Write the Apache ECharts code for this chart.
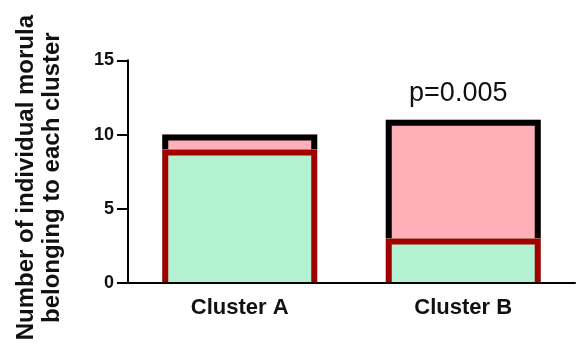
<!DOCTYPE html>
<html>
<head>
<meta charset="utf-8">
<script src="https://cdn.jsdelivr.net/npm/echarts@6/dist/echarts.min.js"></script>
<style>
  html, body { margin: 0; padding: 0; background: #ffffff; }
  #chart { width: 580px; height: 350px; }
</style>
</head>
<body>
<div id="chart"></div>
<script>
// Morula counts per cluster, split into two stacked groups
const categories = ['Cluster A', 'Cluster B'];
const lowerCounts = [9, 3];   // green segment
const upperCounts = [1, 8];   // pink segment stacked on top
const yTicks = [0, 5, 10, 15];
const yAxisTitle = 'Number of individual morula\nbelonging to each cluster';
const pValueText = 'p=0.005';
const pValueIndex = 1;

const font = 'Liberation Sans, Arial, sans-serif';
const BAR_WIDTH = 155;
const LINE_W = 6;

// [category index, segment start, segment end]
const lowerData = lowerCounts.map((v, i) => [i, 0, v]);
const upperData = upperCounts.map((v, i) => [i, lowerCounts[i], lowerCounts[i] + v]);

// Filled segment with an open-bottom outline drawn inside its edges
function segmentRenderer(fill, stroke, withNote) {
  return function (params, api) {
    const idx = api.value(0);
    const base = api.coord([idx, api.value(1)]);
    const top = api.coord([idx, api.value(2)]);
    const cx = top[0];
    const half = BAR_WIDTH / 2;
    const inset = LINE_W / 2;
    const children = [
      {
        type: 'rect',
        shape: { x: cx - half, y: top[1], width: BAR_WIDTH, height: base[1] - top[1] },
        style: { fill: fill }
      },
      {
        type: 'polyline',
        shape: {
          points: [
            [cx - half + inset, base[1]],
            [cx - half + inset, top[1] + inset],
            [cx + half - inset, top[1] + inset],
            [cx + half - inset, base[1]]
          ]
        },
        style: { fill: null, stroke: stroke, lineWidth: LINE_W, lineJoin: 'miter', lineCap: 'butt' }
      }
    ];
    if (withNote && params.dataIndex === pValueIndex) {
      children.push({
        type: 'text',
        style: {
          x: cx - 5,
          y: top[1] - 13,
          text: pValueText,
          fill: '#111',
          font: 'normal 27px ' + font,
          textAlign: 'center',
          textVerticalAlign: 'bottom'
        }
      });
    }
    return { type: 'group', children: children };
  };
}

const chart = echarts.init(document.getElementById('chart'), null, { renderer: 'canvas' });
chart.setOption({
  animation: false,
  backgroundColor: '#ffffff',
  grid: { left: 128, right: 5, top: 58, bottom: 67, containLabel: false },
  xAxis: {
    type: 'category',
    data: categories,
    boundaryGap: true,
    z: 5,
    axisLine: { lineStyle: { color: '#000', width: 2 } },
    axisTick: { alignWithLabel: true, length: 10, lineStyle: { color: '#000', width: 2 } },
    axisLabel: { color: '#111', fontFamily: font, fontWeight: 'bold', fontSize: 22, margin: 14 }
  },
  yAxis: {
    type: 'value',
    min: yTicks[0],
    max: yTicks[yTicks.length - 1],
    interval: yTicks[1] - yTicks[0],
    name: yAxisTitle,
    nameLocation: 'middle',
    nameRotate: 90,
    nameGap: 63,
    nameTextStyle: {
      color: '#111', fontFamily: font, fontWeight: 'bold', fontSize: 24, lineHeight: 26,
      padding: [0, 12, 0, 0]
    },
    splitLine: { show: false },
    axisLine: { show: true, lineStyle: { color: '#000', width: 2 } },
    axisTick: { show: true, length: 11, lineStyle: { color: '#000', width: 2 } },
    axisLabel: { color: '#111', fontFamily: font, fontWeight: 'bold', fontSize: 18, margin: 14 }
  },
  series: [
    {
      type: 'custom',
      name: 'upper',
      data: upperData,
      encode: { x: 0, y: [1, 2] },
      z: 2,
      renderItem: segmentRenderer('#ffafb8', '#000000', true)
    },
    {
      type: 'custom',
      name: 'lower',
      data: lowerData,
      encode: { x: 0, y: [1, 2] },
      z: 3,
      renderItem: segmentRenderer('#b3f2d0', '#a30000', false)
    }
  ]
});
</script>
</body>
</html>
